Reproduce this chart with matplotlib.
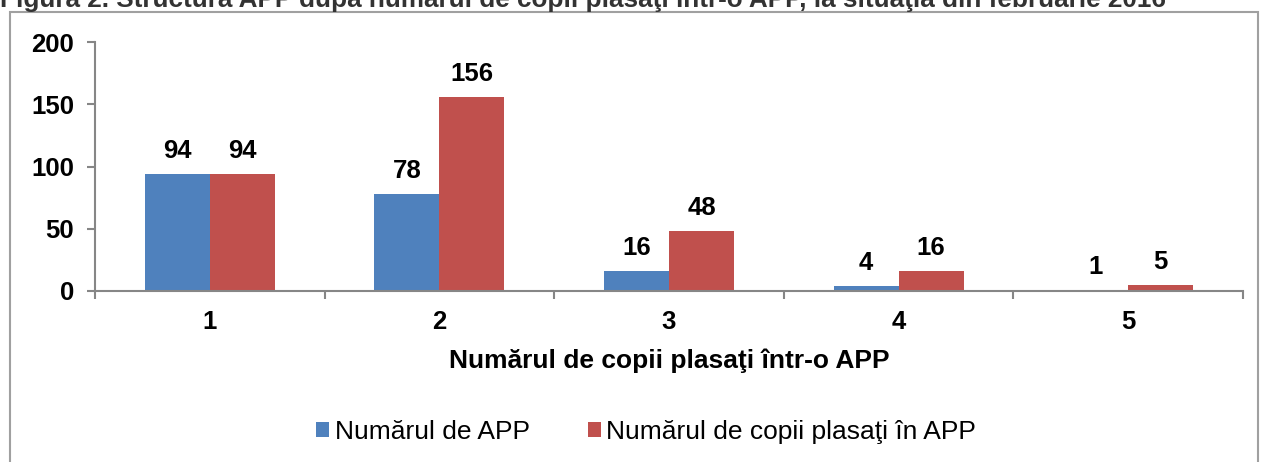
import numpy as np
import matplotlib
matplotlib.use("Agg")
import matplotlib.pyplot as plt
from matplotlib.patches import Rectangle

plt.rcParams['font.family'] = ['Liberation Sans', 'DejaVu Sans']

categories = ['1', '2', '3', '4', '5']
nr_app = [94, 78, 16, 4, 1]
nr_copii = [94, 156, 48, 16, 5]
series_names = ['Numărul de APP', 'Numărul de copii plasaţi în APP']
title = 'Figura 2. Structura APP după numărul de copii plasaţi într-o APP, la situaţia din februarie 2016'

blue = '#4F81BD'
red = '#C0504D'
axis_gray = '#868686'

fig = plt.figure(figsize=(12.62, 4.62), dpi=100)
W, H = 1262, 462

# outer frame of the chart area
fig.patches.append(Rectangle((10 / W, -0.05), (1258 - 10) / W, 1 - 12 / H + 0.05,
                             transform=fig.transFigure, fill=False,
                             edgecolor='#A0A0A0', linewidth=1.5))
# title, cut off at the top of the image
fig.text(0.0, 1 - 7 / H, title, fontsize=18.8, fontweight='bold', color='#333333',
         va='baseline', ha='left')

ax = fig.add_axes([95 / W, 1 - 291 / H, (1243 - 95) / W, (291 - 42) / H])

x = np.arange(len(categories))
w = 0.283
b1 = ax.bar(x - w / 2, nr_app, w, color=blue, label=series_names[0])
b2 = ax.bar(x + w / 2, nr_copii, w, color=red, label=series_names[1])

for bars, vals in ((b1, nr_app), (b2, nr_copii)):
    for rect, v in zip(bars, vals):
        ax.annotate(str(v), (rect.get_x() + rect.get_width() / 2, v),
                    xytext=(0, 11.5), textcoords='offset points',
                    ha='center', va='baseline', fontsize=18.5, fontweight='bold')

ax.set_xlim(-0.5, len(categories) - 0.5)
ax.set_ylim(0, 200)
ax.set_yticks([0, 50, 100, 150, 200])
ax.set_xticks(np.arange(len(categories) + 1) - 0.5)
ax.set_xticklabels([])
ax.set_xticks(x, minor=True)
ax.set_xticklabels(categories, minor=True)
ax.tick_params(axis='x', which='major', length=6, width=1.5, color=axis_gray, direction='out')
ax.tick_params(axis='x', which='minor', length=0, pad=14, labelsize=18.5)
ax.tick_params(axis='y', length=6, width=1.5, color=axis_gray, pad=9, labelsize=18.5)
for lab in ax.get_xticklabels(minor=True) + ax.get_yticklabels():
    lab.set_fontweight('bold')

for s in ('top', 'right'):
    ax.spines[s].set_visible(False)
for s in ('left', 'bottom'):
    ax.spines[s].set_color(axis_gray)
    ax.spines[s].set_linewidth(1.5)

fig.text((95 + 1243) / 2 / W, 1 - 361 / H, 'Numărul de copii plasaţi într-o APP',
         fontsize=19, fontweight='bold', ha='center', va='center')

fig.legend(handles=[b1, b2], loc='center', bbox_to_anchor=(646 / W, 1 - 432 / H),
           ncol=2, frameon=False, fontsize=19, handlelength=0.5, handleheight=0.5,
           handletextpad=0.2, columnspacing=2.2)

fig.savefig('out.png', dpi=100)
